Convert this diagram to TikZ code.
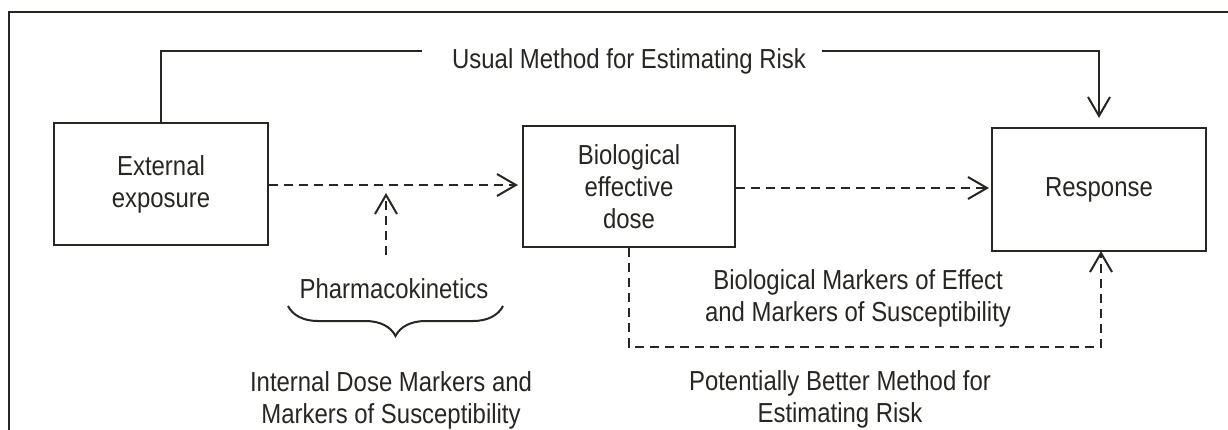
\documentclass[tikz,border=0pt]{standalone}
\usepackage{fontspec}
\setmainfont{Liberation Sans}[FakeStretch=0.87]
\usetikzlibrary{arrows.meta,decorations.pathreplacing}
\definecolor{ink}{RGB}{40,38,35}
\begin{document}
\begin{tikzpicture}
    [ x=1pt, y=-1pt,
      every node/.style={text=ink, font=\fontsize{27.5}{32}\selectfont},
      box-node/.style = {
        shape=rectangle, draw=ink, line width=2.1pt,
        align=center, inner sep=0pt
      },
      txt/.style = {align=center, inner sep=0pt},
      vee/.style = {-{Straight Barb[length=19pt,width=22pt,line width=2pt]}},
      solid-arrow/.style = {draw=ink, line width=2pt, vee},
      dash-arrow/.style = {draw=ink, line width=2pt, vee,
        dash pattern=on 9pt off 6pt}]
      \clip (0,0) rectangle (1228,429);
      \draw [ink, line width=2pt] (9,12) rectangle (1240,440);
      \node [box-node, minimum width=214pt, minimum height=122pt] (ext) at (161,184)
        {External\\exposure};
      \node [box-node, minimum width=212pt, minimum height=121pt] (bio) at (629,186.5)
        {Biological\\effective\\dose};
      \node [box-node, minimum width=214pt, minimum height=123pt] (resp) at (1099,189.5)
        {Response};
      \node [txt, anchor=base] (usual) at (629,68) {Usual Method for Estimating Risk};
      \coordinate (usual-l) at (422,51);
      \coordinate (usual-r) at (822,51);
      \draw [ink, line width=2pt] (ext.north) |- (usual-l);
      \draw [solid-arrow, shorten >=9pt] (usual-r) -| (resp.north);
      \draw [dash-arrow, shorten >=4pt] (ext.east |- 0,185) -- (bio.west |- 0,185);
      \draw [dash-arrow, shorten >=2pt] (bio.east |- 0,188) -- (resp.west |- 0,188);
      \node [txt] (pharma) at (394,289) {Pharmacokinetics};
      \coordinate (pk-bot) at (386,255);
      \coordinate (pk-top) at (386,193);
      \draw [dash-arrow] (pk-bot) -- (pk-top);
      \coordinate (brace-l) at (288,306);
      \coordinate (brace-r) at (503,306);
      \draw [ink, line width=2pt, decorate,
        decoration={brace, amplitude=30pt}] (brace-r) -- (brace-l);
      \node [txt] (internal) at (391,400)
        {Internal Dose Markers and\\Markers of Susceptibility};
      \coordinate (pb-corner) at (1101,347);
      \draw [dash-arrow, shorten >=-1pt] (bio.south) |- (pb-corner) -- (pb-corner |- resp.south);
      \node [txt] (effect) at (858,298)
        {Biological Markers of Effect\\and Markers of Susceptibility};
      \node [txt] (better) at (840,399)
        {Potentially Better Method for\\Estimating Risk};
  \end{tikzpicture}
\end{document}
